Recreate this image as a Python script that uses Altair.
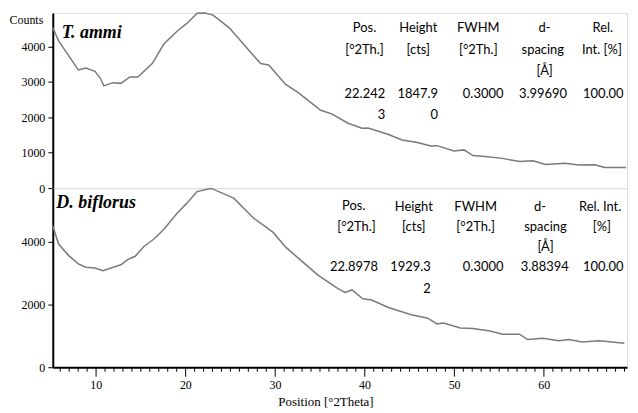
import altair as alt
import pandas as pd

# ---------------- data ----------------
ammi_x = [5.2, 5.85, 6.95, 8.05, 8.9, 9.9, 10.5, 10.9, 11.9, 12.8, 13.8, 14.7, 16.3, 17.6, 19.1,
          20.2, 21.3, 22.2, 23.1, 24.9, 26.8, 28.4, 29.3, 31.2, 32.6, 33.7, 35.1, 36.4, 38.1,
          39.7, 40.4, 42.6, 44.2, 45.9, 47.4, 48.1, 50.0, 51.1, 52.1, 53.2, 55.4, 57.3, 58.8,
          60.2, 62.4, 63.9, 65.7, 66.8, 69.2]
ammi_y = [4530, 4160, 3750, 3340, 3390, 3300, 3110, 2890, 2980, 2960, 3140, 3140, 3520, 4070, 4440,
          4660, 4940, 4950, 4890, 4530, 3980, 3520, 3480, 2930, 2700, 2480, 2200, 2090, 1840,
          1690, 1700, 1520, 1360, 1290, 1190, 1200, 1050, 1080, 920, 900, 840, 750, 770,
          670, 700, 650, 660, 580, 580]

bif_x = [5.2, 5.85, 6.95, 8.05, 8.9, 9.9, 10.8, 11.7, 12.8, 13.6, 14.4, 15.4, 16.5, 17.6, 19.1,
         20.2, 21.3, 22.4, 22.9, 25.4, 27.6, 29.8, 31.2, 32.9, 34.8, 37.0, 37.8, 38.6, 39.8,
         40.8, 42.6, 45.2, 47.0, 48.1, 48.8, 50.7, 52.1, 54.0, 55.4, 57.3, 58.2, 59.9, 61.7,
         62.8, 64.3, 66.2, 67.6, 69.0]
bif_y = [4495, 3920, 3560, 3290, 3180, 3160, 3070, 3160, 3260, 3430, 3530, 3850, 4080, 4390, 4910,
         5230, 5590, 5665, 5690, 5380, 4750, 4290, 3820, 3400, 2930, 2510, 2380, 2460, 2180,
         2140, 1910, 1670, 1570, 1380, 1410, 1250, 1230, 1150, 1050, 1050, 880, 920, 840,
         880, 800, 840, 800, 760]

# peak table texts
top_hdr_text = ["Pos.", "[°2Th.]", "Height", "[cts]", "FWHM", "[°2Th.]", "d-", "spacing", "[Å]", "Rel.", "Int. [%]"]
top_hdr_x = [40.0, 40.0, 46.0, 46.0, 52.7, 52.7, 60.1, 59.9, 60.1, 66.6, 66.5]
top_hdr_y = [4527, 3899, 4527, 3899, 4527, 3899, 4527, 3899, 3298, 4527, 3899]
top_val_text = ["22.242", "3", "1847.9", "0", "0.3000", "3.99690", "100.00"]
top_val_x = [42.3, 42.3, 48.2, 48.2, 55.5, 62.6, 68.9]
top_val_y = [2670, 2068, 2670, 2068, 2670, 2670, 2670]

bot_hdr_text = ["Pos.", "[°2Th.]", "Height", "[cts]", "FWHM", "[°2Th.]", "d-", "spacing", "[Å]", "Rel. Int.", "[%]"]
bot_hdr_x = [38.8, 39.1, 45.5, 45.5, 52.4, 52.4, 59.6, 60.2, 60.2, 66.3, 66.5]
bot_hdr_y = [5130, 4470, 5100, 4470, 5100, 4470, 5100, 4470, 3810, 5100, 4470]
bot_val_text = ["22.8978", "1929.3", "2", "0.3000", "3.88394", "100.00"]
bot_val_x = [41.5, 47.4, 47.4, 55.5, 62.8, 68.9]
bot_val_y = [3190, 3190, 2500, 3190, 3190, 3190]

species = ["T. ammi", "D. biflorus"]
species_x = [6.2, 5.6]
species_y = [4390, 5225]

x_minor = list(range(6, 70))

# ---------------- chart ----------------
AX_FONT = "Liberation Sans Narrow"
TB_FONT = "Lato"
LINE_COLOR = "#7a7a7a"
W, H1, H2 = 577, 176, 180

x_scale = alt.Scale(domain=[5.2, 69.3], nice=False, zero=False)
ys1 = alt.Scale(domain=[0, 4950], nice=False, zero=True)
ys2 = alt.Scale(domain=[0, 5700], nice=False, zero=True)

y_axis_common = dict(
    grid=False, domainColor="black", domainWidth=2, tickColor="black", tickSize=5,
    tickWidth=1, labelFont=AX_FONT, labelFontSize=12, labelColor="black", labelPadding=3,
    format="d",
)

y1_axis = alt.Axis(
    values=[0, 1000, 2000, 3000, 4000], title="Counts", titleAngle=0, titleX=-44, titleY=7,
    titleAlign="left", titleBaseline="middle", titleFont=AX_FONT, titleFontSize=12,
    titleFontWeight="normal", titleColor="black", **y_axis_common)
y2_axis = alt.Axis(values=[0, 2000, 4000], title=None, **y_axis_common)
x2_axis = alt.Axis(
    values=x_minor, labelExpr="datum.value % 10 === 0 ? datum.label : ''",
    tickSize={"condition": {"test": "datum.value % 10 === 0", "value": 9}, "value": 4},
    grid=False, domainColor="black", domainWidth=2, tickColor="black", tickWidth=1,
    labelFont=AX_FONT, labelFontSize=12, labelColor="black", labelPadding=3,
    labelFlush=False, labelOverlap=False,
    title="Position [°2Theta]", titleFont=AX_FONT, titleFontSize=13,
    titleFontWeight="normal", titleColor="black", titleX=274, titleY=34,
    titleAlign="center", titleBaseline="middle")


def df(**cols):
    return pd.DataFrame(cols)


def enc(xa, ya, ysc):
    return dict(
        x=alt.X("x:Q", scale=x_scale, axis=xa),
        y=alt.Y("y:Q", scale=ysc, axis=ya),
    )


def panel(lx, ly, hx, hy, ht, vx, vy, vt, si, xa, ya, ysc, h):
    line = alt.Chart(df(x=lx, y=ly)).mark_line(color=LINE_COLOR, strokeWidth=1.5).encode(
        **enc(xa, ya, ysc))
    hdr = alt.Chart(df(x=hx, y=hy, t=ht)).mark_text(
        font=TB_FONT, fontSize=13, align="center", baseline="middle", color="black"
    ).encode(text="t:N", **enc(xa, ya, ysc))
    val = alt.Chart(df(x=vx, y=vy, t=vt)).mark_text(
        font=TB_FONT, fontSize=13, align="right", baseline="middle", color="black"
    ).encode(text="t:N", **enc(xa, ya, ysc))
    sp = alt.Chart(df(x=[species_x[si]], y=[species_y[si]], t=[species[si]])).mark_text(
        font="Liberation Serif", fontSize=18, fontWeight="bold", fontStyle="italic",
        align="left", baseline="middle", color="black"
    ).encode(text="t:N", **enc(xa, ya, ysc))
    return alt.layer(line, hdr, val, sp).properties(width=W, height=h)


top = panel(ammi_x, ammi_y, top_hdr_x, top_hdr_y, top_hdr_text, top_val_x, top_val_y,
            top_val_text, 0, None, y1_axis, ys1, H1)
bottom = panel(bif_x, bif_y, bot_hdr_x, bot_hdr_y, bot_hdr_text, bot_val_x, bot_val_y,
               bot_val_text, 1, x2_axis, y2_axis, ys2, H2)

chart = alt.vconcat(top, bottom, spacing=0, bounds="flush").properties(
    padding={"left": 0, "top": 0, "right": 0, "bottom": 0}
).configure_view(stroke="#555555", strokeWidth=1.5).configure(background="white")

chart.save("out.html", embed_options={"renderer": "svg", "actions": False})
